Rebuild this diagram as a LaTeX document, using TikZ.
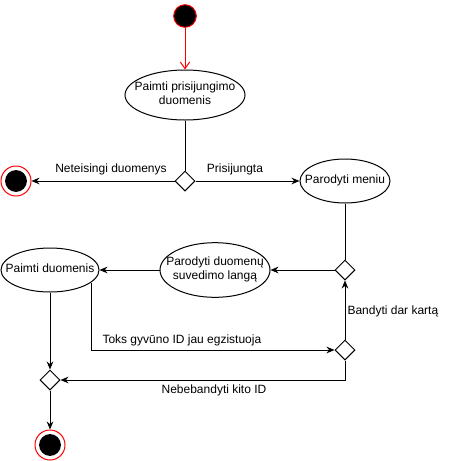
\documentclass[tikz,border=0pt]{standalone}
\usepackage{fontspec}
\setmainfont{Liberation Sans}
\usetikzlibrary{shapes.geometric,arrows.meta}
\newcommand{\ztext}[1]{\makebox[0pt][c]{\begin{tabular}{@{}c@{}}#1\end{tabular}}}
\begin{document}
\begin{tikzpicture}[x=0.75pt,y=-0.75pt,
  font=\fontsize{9}{10.5}\selectfont,
  line width=0.75pt,
  act/.style={draw,ellipse,inner sep=0pt},
  dec/.style={draw,diamond,minimum width=15pt,minimum height=15pt,inner sep=0pt,fill=white},
  startst/.style={circle,draw=red,fill=black,minimum size=17pt,inner sep=0pt},
  endst/.style={circle,draw=red,fill=white,minimum size=22.5pt,inner sep=0pt,
     path picture={\fill[black] (path picture bounding box.center) circle (8.2pt);}},
  arr/.style={-{Stealth[length=6pt,width=5pt]}},
  lbl/.style={inner sep=0pt}]
\useasboundingbox (0,0) rectangle (456,461);
\node[startst] (start) at (185,16) {};
\node[act,minimum width=90pt,minimum height=37.5pt] (a1) at (185,95) {\ztext{Paimti prisijungimo\\duomenis}};
\node[dec] (d1) at (185,181) {};
\node[endst] (endL) at (16,181) {};
\node[act,minimum width=67.5pt,minimum height=33pt] (menu) at (345,181) {\ztext{Parodyti meniu}};
\node[dec] (d2) at (345,270) {};
\node[act,minimum width=82.5pt,minimum height=41pt] (show) at (215,270) {\ztext{Parodyti duomenų\\suvedimo langą}};
\node[act,minimum width=73.5pt,minimum height=33pt] (take) at (50,270) {\ztext{Paimti duomenis}};
\node[dec] (d3) at (345,350) {};
\node[dec] (d4) at (50,380) {};
\node[endst] (endB) at (50,445) {};

\draw[red,-{Straight Barb[length=5pt,width=7pt]}] (start) -- (a1);
\draw (a1) -- (d1);
\draw[arr] (d1) -- (endL);
\draw[arr] (d1) -- (menu);
\draw (menu) -- (d2);
\draw[arr] (d2) -- (show);
\draw[arr] (show) -- (take);
\draw[arr] (take) -- (d4);
\draw[arr] (take.-17) |- (d3);
\draw[arr] (d3) -- (d2);
\draw[arr] (d3.south) |- (d4);
\draw[arr] (d4) -- (endB);

\node[lbl] (l1) at (111,169) {Neteisingi duomenys};
\node[lbl] (l2) at (235,169) {Prisijungta};
\node[lbl,anchor=west] (l3) at (347,311) {Bandyti dar kartą};
\node[lbl,anchor=west] (l4) at (102,340) {Toks gyvūno ID jau egzistuoja};
\node[lbl] (l5) at (214,390) {Nebebandyti kito ID};
\end{tikzpicture}
\end{document}
